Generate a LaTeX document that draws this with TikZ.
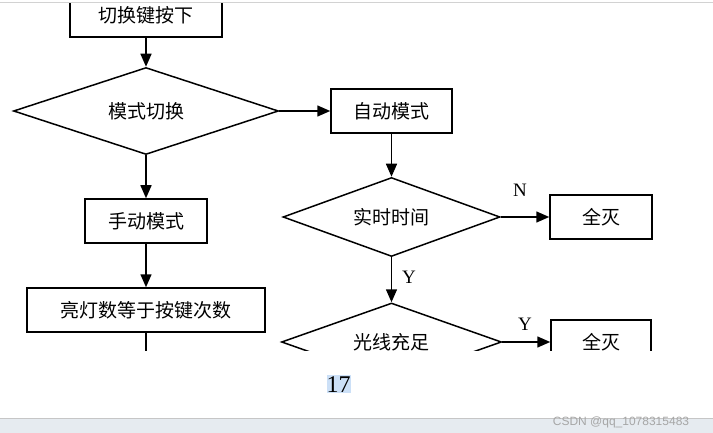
\documentclass[tikz,border=0pt]{standalone}
\usepackage{fontspec}
\setmainfont{Liberation Serif}
\newfontfamily\cjk{Noto Sans CJK SC}
\newfontfamily\wmfont{Liberation Sans}
\usetikzlibrary{arrows.meta,positioning,shapes.geometric}
\definecolor{hlblue}{HTML}{CCE0F7}
\definecolor{barbg}{HTML}{E6EBF0}

\begin{document}
\begin{tikzpicture}[
    x=1pt, y=-1pt,
    pbox/.style={rectangle, draw, line width=1.5pt, minimum height=44pt,
                 inner sep=0pt, font=\cjk\fontsize{19}{21}\selectfont},
    dbox/.style={diamond, draw, line width=1.5pt, aspect=3, inner sep=0pt,
                 font=\cjk\fontsize{19}{21}\selectfont},
    flow/.style={line width=1.5pt, -{Triangle[length=13pt,width=11pt]}},
    yn/.style={font=\fontsize{19}{21}\selectfont, inner sep=0pt}
  ]
  \useasboundingbox (0,0) rectangle (713,433);

  % ---- Page edge ----
  \draw[gray!35, line width=1.2pt] (0,2.5) -- (713,2.5);

  \begin{scope}
    \clip (0,4) rectangle (713,350);

    % ---- Left column: manual mode ----
    \node[pbox, minimum width=152pt] (KEY) at (146,15) {切换键按下};
    \node[dbox, minimum width=265pt, minimum height=87pt]
      (MODE) at (146,111) {模式切换};
    \node[pbox, minimum width=122pt] (MANUAL) at (146,221) {手动模式};
    \node[pbox, minimum width=238pt] (COUNT) at (146,310) {亮灯数等于按键次数};
    \coordinate (COUNTEND) at (146,370);

    % ---- Right column: auto mode ----
    \node[pbox, minimum width=121pt] (AUTO) at (391.5,111) {自动模式};
    \node[dbox, minimum width=217pt, minimum height=79pt]
      (TIME) at (391.5,217) {实时时间};
    \node[pbox, minimum width=102pt] (OFF1) at (601,217) {全灭};
    \node[dbox, minimum width=220pt, minimum height=78pt]
      (LIGHT) at (391.5,342) {光线充足};
    \node[pbox, minimum width=100pt] (OFF2) at (601,342) {全灭};

    % ---- Arrows ----
    \draw[flow] (KEY.south)   -- (MODE.north);
    \draw[flow] (MODE.south)  -- (MANUAL.north);
    \draw[flow] (MANUAL.south) -- (COUNT.north);
    \draw[line width=1.5pt] (COUNT.south) -- (COUNTEND);
    \draw[flow] (MODE.east)   -- (AUTO.west);
    \draw[flow] (AUTO.south)  -- (TIME.north);
    \draw[flow] (TIME.east)   -- (OFF1.west);
    \draw[flow] (TIME.south)  -- (LIGHT.north);
    \draw[flow] (LIGHT.east)  -- (OFF2.west);

    % ---- Branch labels ----
    \node[yn] (N1) at (520,190) {N};
    \node[yn] (Y1) at (409,277) {Y};
    \node[yn] (Y2) at (525,324) {Y};
  \end{scope}

  % ---- Page number ----
  \node[fill=hlblue, inner sep=0pt, text height=17pt, text depth=1pt,
        minimum width=23pt, font=\fontsize{24}{26}\selectfont]
    (PAGE) at (338.5,384) {17};

  % ---- Bottom bar ----
  \fill[barbg] (0,418) rectangle (713,433);
  \draw[gray!45, line width=0.8pt] (0,418) -- (713,418);
  \node[text=gray!70, inner sep=0pt, font=\wmfont\fontsize{12}{14}\selectfont]
    (WM) at (621,422) {CSDN @qq\_1078315483};

\end{tikzpicture}
\end{document}
